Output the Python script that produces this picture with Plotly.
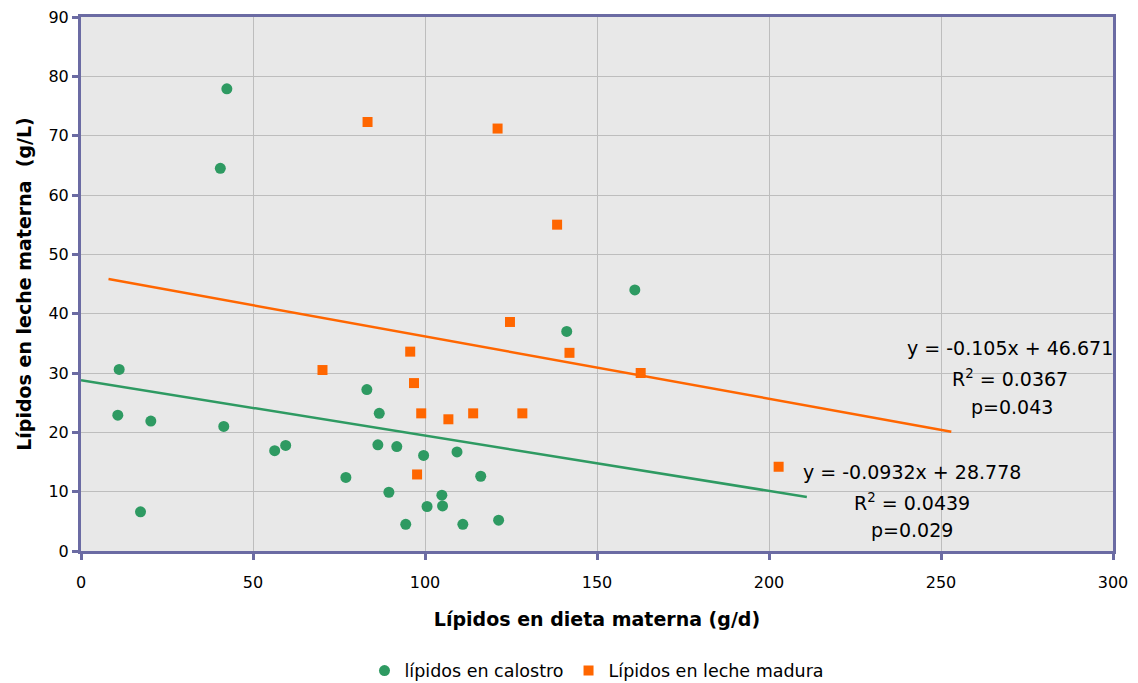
import plotly.graph_objects as go

# calostro (green circles)
calostro_x = [11.1, 10.7, 20.3, 41.5, 17.3, 56.3, 59.5, 77.0, 83.1, 86.7, 86.3, 91.8, 89.5,
              94.4, 99.6, 100.6, 104.9, 105.1, 109.3, 111.0, 116.2, 121.4, 141.2, 161.0, 42.4, 40.5]
calostro_y = [30.6, 22.9, 21.9, 21.0, 6.6, 16.9, 17.8, 12.4, 27.2, 23.2, 17.9, 17.6, 9.9,
              4.5, 16.1, 7.5, 9.4, 7.6, 16.7, 4.5, 12.6, 5.2, 37.0, 44.0, 77.9, 64.5]

# leche madura (orange squares)
madura_x = [70.2, 95.7, 96.8, 98.9, 106.8, 114.0, 97.7, 128.3, 124.7, 142.0, 162.7, 202.8,
            83.3, 121.1, 138.4]
madura_y = [30.5, 33.6, 28.3, 23.2, 22.2, 23.2, 12.9, 23.2, 38.6, 33.4, 30.0, 14.2,
            72.3, 71.2, 55.0]

# trend lines (endpoints)
trend_cal_x = [0, 211]
trend_cal_y = [28.78, 9.1]
trend_mad_x = [8, 253]
trend_mad_y = [45.83, 20.1]

x_ticks = [0, 50, 100, 150, 200, 250, 300]
y_ticks = [0, 10, 20, 30, 40, 50, 60, 70, 80, 90]

GREEN = "#2e9a62"
ORANGE = "#ff6600"
AXIS = "#6b6ba3"
FONT = "DejaVu Sans"

fig = go.Figure()
fig.add_trace(go.Scatter(x=trend_cal_x, y=trend_cal_y, mode="lines",
                         line=dict(color=GREEN, width=2.5), showlegend=False, hoverinfo="skip"))
fig.add_trace(go.Scatter(x=trend_mad_x, y=trend_mad_y, mode="lines",
                         line=dict(color=ORANGE, width=2.5), showlegend=False, hoverinfo="skip"))
fig.add_trace(go.Scatter(x=calostro_x, y=calostro_y, mode="markers", name="lípidos en calostro",
                         marker=dict(symbol="circle", size=11, color=GREEN)))
fig.add_trace(go.Scatter(x=madura_x, y=madura_y, mode="markers", name="Lípidos en leche madura",
                         marker=dict(symbol="square", size=10, color=ORANGE)))

ann_font = dict(family=FONT, size=19, color="#000000")
annotations = [
    ("y = -0.105x + 46.671", 1010, 348),
    ("R<sup>2</sup> = 0.0367", 1010, 378),
    ("p=0.043", 1012, 407),
    ("y = -0.0932x + 28.778", 912, 472),
    ("R<sup>2</sup> = 0.0439", 912, 502),
    ("p=0.029", 912, 530),
]
# convert pixel centres to data coords: x0=81, 3.44 px/unit; y0=551, 5.933 px/unit
for text, px, py in annotations:
    fig.add_annotation(x=(px - 81) / 3.44, y=(551 - py) / 5.933, text=text, showarrow=False,
                       font=ann_font, xanchor="center", yanchor="middle")

fig.update_layout(
    width=1138, height=683,
    margin=dict(l=81, r=25, t=17, b=132, autoexpand=False),
    paper_bgcolor="white",
    plot_bgcolor="#e8e8e8",
    font=dict(family=FONT, size=16, color="#000000"),
    legend=dict(orientation="h", x=0.5, xanchor="center", yref="container", y=0.018,
                yanchor="middle", font=dict(family=FONT, size=17.5), itemwidth=30, tracegroupgap=0),
    xaxis=dict(range=[0, 300], tickvals=x_ticks, showgrid=True, gridcolor="#bdbdbd", gridwidth=1,
               showline=True, linecolor=AXIS, linewidth=3, mirror=True, zeroline=False,
               ticks="outside", ticklen=6, tickwidth=3, tickcolor=AXIS, automargin=False,
               tickfont=dict(size=16), ticklabelstandoff=9,
               title=dict(text="<b>Lípidos en dieta materna (g/d)</b>", font=dict(size=19), standoff=22)),
    yaxis=dict(range=[0, 90], tickvals=y_ticks, showgrid=True, gridcolor="#bdbdbd", gridwidth=1,
               showline=True, linecolor=AXIS, linewidth=3, mirror=True, zeroline=False,
               ticks="outside", ticklen=6, tickwidth=3, tickcolor=AXIS, automargin=False,
               tickfont=dict(size=16),
               title=dict(text="<b>Lípidos en leche materna  (g/L)</b>", font=dict(size=19), standoff=12)),
)

fig.write_html("out.html")
